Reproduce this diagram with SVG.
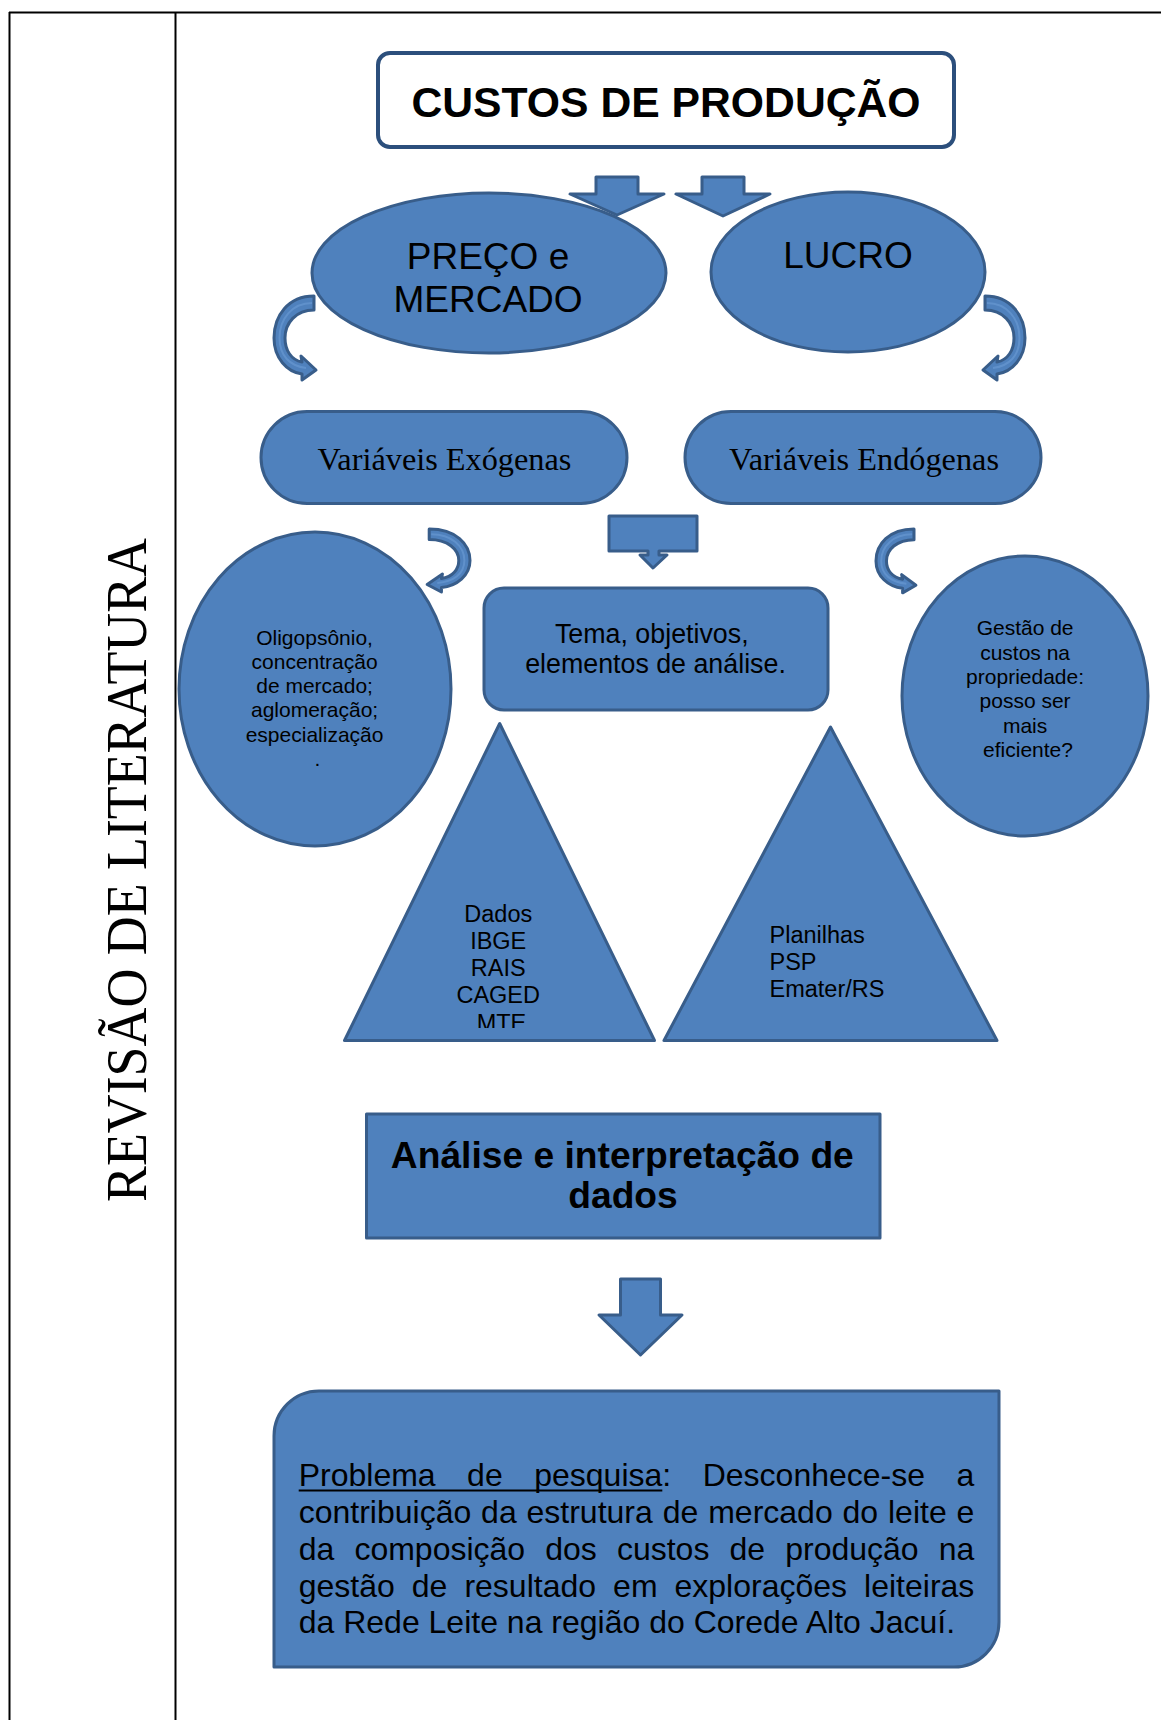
<svg xmlns="http://www.w3.org/2000/svg" xmlns:xlink="http://www.w3.org/1999/xlink" width="1161" height="1720" viewBox="0 0 1161 1720">
<style>
.shape{fill:#4F81BD;stroke:#385D8A;stroke-width:3;stroke-linejoin:round}
.sans{font-family:"Liberation Sans",Arial,sans-serif;fill:#000}
.serif{font-family:"Liberation Serif","Times New Roman",serif;fill:#000}
.frame{stroke:#000;stroke-width:2;fill:none}
.mid{text-anchor:middle}
.hl{fill:none;stroke:#6F9FD8;stroke-width:2;opacity:.55;vector-effect:non-scaling-stroke}
</style>
<defs>
<g id="curv">
<path class="shape" vector-effect="non-scaling-stroke" d="M 40 0 C 14 0 0 20 0 42 C 0 62 13 76 28 78 L 28 84 L 42 74 L 27 60 L 28 66 C 17 64 11 54 11 42 C 11 27 22 14 40 14 Z"/>
<path class="hl" d="M 38 7 C 18 7 5.5 23 5.5 42 C 5.5 60 16 70 32 72"/>
</g>
<clipPath id="triclip"><rect x="300" y="700" width="400" height="328"/></clipPath>
</defs>
<rect width="1161" height="1720" fill="#fff"/>
<g id="frame">
<line class="frame" x1="9" y1="12.5" x2="1161" y2="12.5"/>
<line class="frame" x1="9.5" y1="12" x2="9.5" y2="1720"/>
<line class="frame" x1="175.5" y1="12" x2="175.5" y2="1720"/>
</g>
<g id="side-title">
<text class="serif mid" font-size="58" transform="translate(146,870) rotate(-90)" textLength="664" lengthAdjust="spacingAndGlyphs">REVISÃO DE LITERATURA</text>
</g>
<g id="custos">
<rect x="378" y="53" width="576" height="94" rx="12" fill="#fff" stroke="#2C4F7C" stroke-width="4"/>
<text class="sans mid" x="666" y="116.5" font-size="42.7" font-weight="bold">CUSTOS DE PRODUÇÃO</text>
</g>
<g id="preco">
<ellipse class="shape" cx="489" cy="273" rx="177" ry="80"/>
<text class="sans mid" x="488" y="269" font-size="37">PREÇO e</text>
<text class="sans mid" x="488" y="312" font-size="37">MERCADO</text>
</g>
<g id="lucro">
<ellipse class="shape" cx="848" cy="272" rx="137" ry="80"/>
<text class="sans mid" x="848" y="268" font-size="37">LUCRO</text>
</g>
<g id="exogenas">
<rect class="shape" x="261" y="411.5" width="366" height="92" rx="46"/>
<text class="serif mid" x="444.5" y="470" font-size="32.3">Variáveis Exógenas</text>
</g>
<g id="endogenas">
<rect class="shape" x="685" y="411.5" width="356" height="92" rx="46"/>
<text class="serif mid" x="864" y="470" font-size="32.3">Variáveis Endógenas</text>
</g>
<g id="oligopsonio">
<ellipse class="shape" cx="315" cy="689" rx="136" ry="157"/>
<text class="sans mid" font-size="21">
<tspan x="317.5" y="644.5">Oligopsônio,</tspan>
<tspan x="317.5" y="668.5">concentração</tspan>
<tspan x="317.5" y="692.5">de mercado;</tspan>
<tspan x="317.5" y="717">aglomeração;</tspan>
<tspan x="317.5" y="741.5">especialização</tspan>
<tspan x="317.5" y="766">.</tspan>
</text>
</g>
<g id="tema">
<rect class="shape" x="484" y="588" width="344" height="122" rx="20"/>
<text class="sans mid" font-size="26.8">
<tspan x="655.5" y="643">Tema, objetivos,</tspan>
<tspan x="655.5" y="672.5">elementos de análise.</tspan>
</text>
</g>
<g id="gestao">
<ellipse class="shape" cx="1025" cy="696" rx="123" ry="140"/>
<text class="sans mid" font-size="21">
<tspan x="1028" y="635">Gestão de</tspan>
<tspan x="1028" y="659.5">custos na</tspan>
<tspan x="1028" y="684">propriedade:</tspan>
<tspan x="1028" y="708">posso ser</tspan>
<tspan x="1028" y="732.5">mais</tspan>
<tspan x="1028" y="757">eficiente?</tspan>
</text>
</g>
<g id="dados">
<polygon class="shape" points="499.7,723.5 344.5,1040.5 654.5,1040.5"/>
<text class="sans mid" font-size="23.5" clip-path="url(#triclip)">
<tspan x="501.5" y="922">Dados</tspan>
<tspan x="501.5" y="948.5">IBGE</tspan>
<tspan x="501.5" y="976">RAIS</tspan>
<tspan x="501.5" y="1003.3">CAGED</tspan>
<tspan x="501.5" y="1030.5">MTE</tspan>
</text>
</g>
<g id="planilhas">
<polygon class="shape" points="830.5,727 664,1040.5 997,1040.5"/>
<text class="sans" font-size="23.5">
<tspan x="769.5" y="942.5">Planilhas</tspan>
<tspan x="769.5" y="970">PSP</tspan>
<tspan x="769.5" y="996.7">Emater/RS</tspan>
</text>
</g>
<g id="analise">
<rect class="shape" x="366.5" y="1114" width="513.5" height="124"/>
<text class="sans mid" font-size="37.2" font-weight="bold">
<tspan x="627.5" y="1168">Análise e interpretação de</tspan>
<tspan x="623" y="1208">dados</tspan>
</text>
</g>
<g id="problema">
<path class="shape" d="M 319 1391 H 999 V 1622 A 45 45 0 0 1 954 1667 H 274 V 1436 A 45 45 0 0 1 319 1391 Z"/>
<text class="sans" font-size="32">
<tspan x="298.7" y="1486">Problema</tspan><tspan x="467.1" y="1486">de</tspan><tspan x="534.2" y="1486">pesquisa</tspan><tspan x="662.3" y="1486">:</tspan><tspan x="702.7" y="1486">Desconhece-se</tspan><tspan x="956.5" y="1486">a</tspan>
</text>
<line x1="298.7" y1="1490.5" x2="662.3" y2="1490.5" stroke="#000" stroke-width="2"/>
<text class="sans" font-size="32">
<tspan x="298.7" y="1522.7">contribuição</tspan><tspan x="481.1" y="1522.7">da</tspan><tspan x="526.5" y="1522.7">estrutura</tspan><tspan x="662.7" y="1522.7">de</tspan><tspan x="708.2" y="1522.7">mercado</tspan><tspan x="842.5" y="1522.7">do</tspan><tspan x="888" y="1522.7">leite</tspan><tspan x="956.5" y="1522.7">e</tspan>
</text>
<text class="sans" font-size="32">
<tspan x="298.7" y="1559.5">da</tspan><tspan x="354.4" y="1559.5">composição</tspan><tspan x="545.2" y="1559.5">dos</tspan><tspan x="616.9" y="1559.5">custos</tspan><tspan x="729.5" y="1559.5">de</tspan><tspan x="785.2" y="1559.5">produção</tspan><tspan x="938.7" y="1559.5">na</tspan>
</text>
<text class="sans" font-size="32">
<tspan x="298.7" y="1596.5">gestão</tspan><tspan x="411.8" y="1596.5">de</tspan><tspan x="464.4" y="1596.5">resultado</tspan><tspan x="613.1" y="1596.5">em</tspan><tspan x="674.5" y="1596.5">explorações</tspan><tspan x="864.1" y="1596.5">leiteiras</tspan>
</text>
<text class="sans" font-size="32" x="298.7" y="1633">da Rede Leite na região do Corede Alto Jacuí.</text>
</g>
<g id="connectors">
<path class="shape" d="M 596 177 H 638 V 194 H 664 L 617 215 L 570 194 H 596 Z"/>
<path class="shape" d="M 702 177 H 744 V 194 H 770 L 723 216 L 676 194 H 702 Z"/>
<use xlink:href="#curv" transform="translate(274,296)"/>
<use xlink:href="#curv" transform="translate(1025,296) scale(-1,1)"/>
<use xlink:href="#curv" transform="translate(470,529) scale(-1.02,0.75)"/>
<use xlink:href="#curv" transform="translate(876,529) scale(0.95,0.76)"/>
<path class="shape" d="M 609 516 H 697 V 551 H 659 V 555 H 667 L 653 568 L 640 555 H 648 V 551 H 609 Z"/>
<path class="shape" d="M 620.5 1279 H 660.5 V 1315 H 682 L 640.5 1355 L 599 1315 H 620.5 Z"/>
</g>
</svg>
